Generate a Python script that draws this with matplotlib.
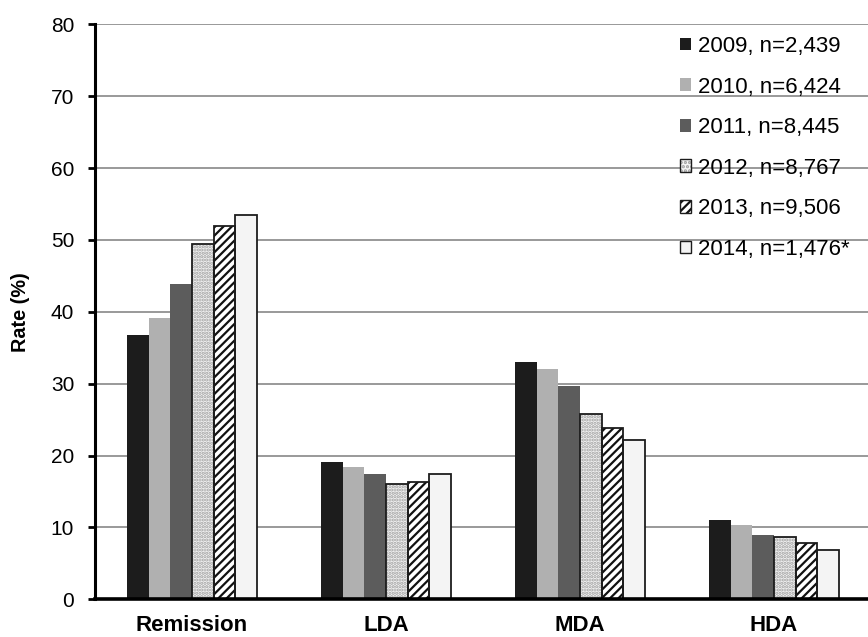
import matplotlib
matplotlib.use("Agg")
import matplotlib.pyplot as plt
from matplotlib.patches import Patch
from matplotlib.legend_handler import HandlerTuple
import numpy as np

plt.rcParams['font.family'] = ['Liberation Sans', 'DejaVu Sans']
plt.rcParams['hatch.linewidth'] = 1.6

categories = ["Remission", "LDA", "MDA", "HDA"]
series_labels = ["2009, n=2,439", "2010, n=6,424", "2011, n=8,445",
                 "2012, n=8,767", "2013, n=9,506", "2014, n=1,476*"]
v2009 = [36.7, 19.1, 33.0, 11.1]
v2010 = [39.1, 18.4, 32.1, 10.4]
v2011 = [43.8, 17.5, 29.7, 9.0]
v2012 = [49.4, 16.1, 25.8, 8.7]
v2013 = [52.0, 16.3, 23.9, 7.8]
v2014 = [53.5, 17.5, 22.2, 6.8]
yticks = [0, 10, 20, 30, 40, 50, 60, 70, 80]

series = [v2009, v2010, v2011, v2012, v2013, v2014]
styles = [
    dict(facecolor='#1c1c1c', edgecolor='#1c1c1c', hatch=None, lw=0.0, hatchcolor=None),
    dict(facecolor='#b0b0b0', edgecolor='#b0b0b0', hatch=None, lw=0.0, hatchcolor=None),
    dict(facecolor='#5c5c5c', edgecolor='#5c5c5c', hatch=None, lw=0.0, hatchcolor=None),
    dict(facecolor='#f4f4f4', edgecolor='#1c1c1c', hatch='.....', lw=1.3, hatchcolor='#a0a0a0'),
    dict(facecolor='#ffffff', edgecolor='#1c1c1c', hatch='////', lw=1.3, hatchcolor='#111111'),
    dict(facecolor='#f4f4f4', edgecolor='#1c1c1c', hatch=None, lw=1.3, hatchcolor=None),
]

fig = plt.figure(figsize=(8.68, 6.37), dpi=100)
ax = fig.add_axes([95/868, 0.0592, 776/868, 0.9027])

x = np.arange(len(categories))
bw = 0.1117
handles = []
for i, (vals, st) in enumerate(zip(series, styles)):
    pos = x - 0.335 + bw * (i + 0.5)
    if st['hatch']:
        ax.bar(pos, vals, width=bw, facecolor=st['facecolor'], edgecolor=st['hatchcolor'],
               hatch=st['hatch'], linewidth=0, zorder=3)
    else:
        ax.bar(pos, vals, width=bw, facecolor=st['facecolor'], edgecolor='none',
               linewidth=0, zorder=3)
    if st['lw'] > 0:
        ax.bar(pos, vals, width=bw, facecolor='none', edgecolor=st['edgecolor'],
               linewidth=st['lw'], zorder=4)
    if st['hatch']:
        h = Patch(facecolor=st['facecolor'], edgecolor=st['hatchcolor'], hatch=st['hatch'][:4], linewidth=0)
        handles.append((h, Patch(facecolor='none', edgecolor=st['edgecolor'], linewidth=1.0)))
    else:
        handles.append(Patch(facecolor=st['facecolor'],
                             edgecolor=st['edgecolor'] if st['lw'] > 0 else st['facecolor'],
                             linewidth=1.0 if st['lw'] > 0 else 0))

ax.set_xlim(-0.5, 3.5)
ax.set_ylim(0, 80)
ax.set_yticks(yticks)
ax.set_yticklabels([str(t) for t in yticks], fontsize=15)
ax.set_xticks(x)
ax.set_xticklabels(categories, fontsize=16, fontweight='bold')
ax.tick_params(axis='x', length=0, pad=11)
ax.tick_params(axis='y', length=5, width=2, pad=10, direction='out')
ax.yaxis.grid(True, color='#888888', linewidth=1.2, zorder=0)
ax.set_axisbelow(True)
for s in ['top', 'right']:
    ax.spines[s].set_visible(False)
ax.spines['left'].set_linewidth(2.2)
ax.spines['bottom'].set_linewidth(2.6)
ax.spines['left'].set_zorder(5)
ax.spines['bottom'].set_zorder(5)
ax.set_ylabel("Rate (%)", fontsize=14.3, fontweight='bold', labelpad=15)

leg = ax.legend(handles, series_labels, loc='upper left',
                bbox_to_anchor=(680/868, 1 - 36/637), bbox_transform=fig.transFigure,
                frameon=False, fontsize=16, handlelength=0.5, handleheight=0.5,
                handletextpad=0.3, labelspacing=0.88, borderaxespad=0, borderpad=0,
                handler_map={tuple: HandlerTuple(ndivide=1)})

fig.savefig("out.png", dpi=100)
